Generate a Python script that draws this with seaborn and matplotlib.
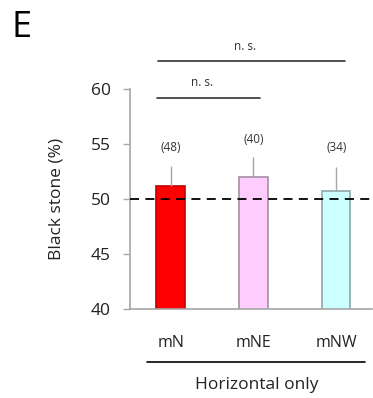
import matplotlib.pyplot as plt
import numpy as np
import pandas as pd
import seaborn as sns
from matplotlib.lines import Line2D

categories = ["mN", "mNE", "mNW"]
black_pct = [51.2, 52.0, 50.7]
sem = [1.8, 1.85, 2.2]
n_labels = ["(48)", "(40)", "(34)"]
group_label = "Horizontal only"

FILL = ["#FF0000", "#FFCCFF", "#CCFFFF"]
EDGE = ["#C00000", "#A58FA5", "#8FA8A8"]
GREY = "#A6A6A6"

sns.set_style("white")
plt.rcParams["font.family"] = ["Open Sans", "DejaVu Sans"]

df = pd.DataFrame({"group": categories, "value": black_pct, "err": sem})

fig = plt.figure(figsize=(3.73, 3.98), dpi=100)
ax = fig.add_axes([0.3485, 0.2236, 0.6485, 0.5528])

sns.barplot(
    data=df, x="group", y="value", hue="group", palette=FILL, saturation=1,
    width=0.34, errorbar=None, legend=False, ax=ax,
)
for patch, ec in zip(ax.patches, EDGE):
    patch.set_edgecolor(ec)
    patch.set_linewidth(1.2)

# upper-only error bars
xpos = np.arange(len(categories))
ax.errorbar(xpos, df.value, yerr=[np.zeros(len(sem)), df.err], fmt="none",
            ecolor=GREY, elinewidth=1, capsize=0, zorder=1)

# chance level
ax.axhline(50, color="black", linestyle=(0, (5, 3.5)), linewidth=1.3, zorder=3)

# sample sizes
n_y = [54.7, 55.45, 54.7]
for x, y, lab in zip(xpos, n_y, n_labels):
    ax.text(x, y, lab, ha="center", va="center", fontsize=8.5, color="#333333")

# significance brackets
ns_y = [59.2, 62.5]
ns_x = [(-0.16, 1.08), (-0.15, 2.1)]
for (x0, x1), y in zip(ns_x, ns_y):
    ax.plot([x0, x1], [y, y], color="#333333", linewidth=1.2, clip_on=False)
    ax.text((x0 + x1) / 2 - 0.08, y + 1.4, "n. s.", ha="center", va="center",
            fontsize=8.5, color="#333333", clip_on=False)

ax.set_ylim(40, 60)
ax.set_xlim(-0.49, 2.43)
ax.set_yticks([40, 45, 50, 55, 60])
ax.set_ylabel("Black stone (%)", fontsize=12.5, color="#222222")
ax.yaxis.set_label_coords(-0.27, 0.5)
ax.set_xlabel("")

for side in ("top", "right"):
    ax.spines[side].set_visible(False)
for side in ("left", "bottom"):
    ax.spines[side].set_color(GREY)
    ax.spines[side].set_linewidth(1.2)

ax.tick_params(axis="y", left=True, length=5, width=1, color=GREY,
               labelsize=12.5, pad=9, labelcolor="#222222")
ax.tick_params(axis="x", bottom=False, labelsize=11.5, pad=15,
               labelcolor="#222222")

# group line and label under the x ticks
fig.add_artist(Line2D([0.394, 0.979], [0.0905, 0.0905], color="black",
                      linewidth=1.2, transform=fig.transFigure))
fig.text(0.689, 0.033, group_label, ha="center", va="center", fontsize=12.5,
         color="#222222")

fig.text(0.03, 0.93, "E", ha="left", va="center", fontsize=26, color="black")

fig.savefig("out.png", dpi=100)
